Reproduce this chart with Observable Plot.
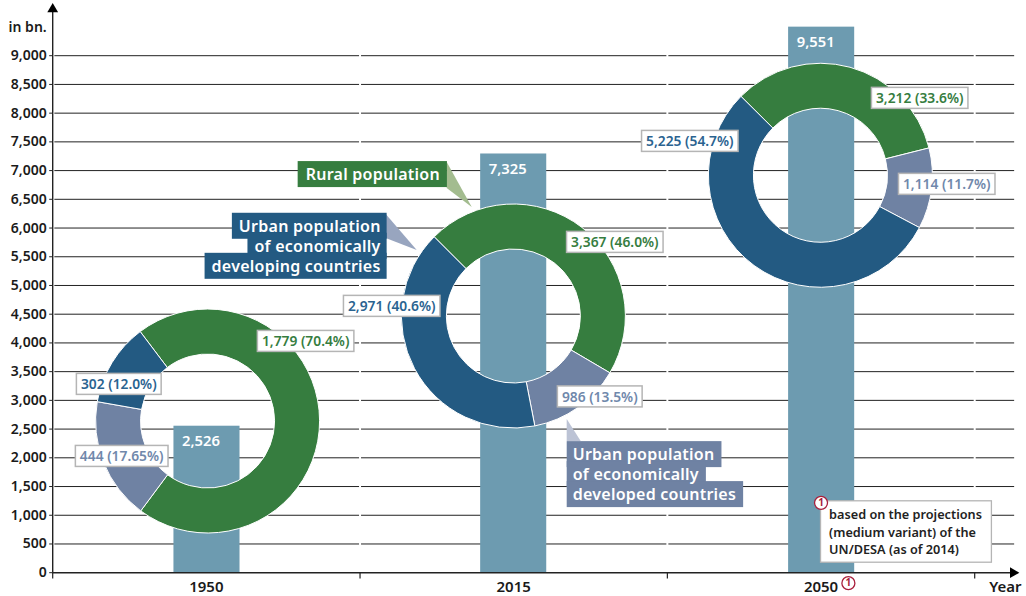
<!DOCTYPE html>
<html>
<head>
<meta charset="utf-8">
<script src="https://cdn.jsdelivr.net/npm/d3@7"></script>
<script src="https://cdn.jsdelivr.net/npm/@observablehq/plot@0.6"></script>
<style>
html,body{margin:0;padding:0;background:#fff;overflow:hidden}
svg{display:block}
.lg-green text,.lg-navy text,.lg-slate text{letter-spacing:.25px}
</style>
</head>
<body>
<script>
const years = ["1950", "2015", "2050"];
const yearLabels = ["1950", "2015", "2050"];
const barTotals = ["2,526", "7,325", "9,551"];
const barHeights = [2550, 7289, 9497];
const barCenters = [0.502, 1.5, 2.502];
const rural = [1779, 3367, 3212];
const urbanDeveloped = [444, 986, 1114];
const urbanDeveloping = [302, 2971, 5225];
const ruralLabels = ["1,779 (70.4%)", "3,367 (46.0%)", "3,212 (33.6%)"];
const developedLabels = ["444 (17.65%)", "986 (13.5%)", "1,114 (11.7%)"];
const developingLabels = ["302 (12.0%)", "2,971 (40.6%)", "5,225 (54.7%)"];
const yTicks = d3.range(0, 9001, 500);
const donutX = [0.5056, 1.5006, 2.4996];
const donutY = [2632, 4460, 6910];
const donutStart = [-37, -45, -45.2];

const green = "#367d3f", navy = "#235a82", slate = "#6f82a3", teal = "#6d9bb0", crimson = "#a81f3c";
const font = "'Noto Sans'";

const bars = years.map((y, i) => ({c: barCenters[i], x1: barCenters[i] - 0.1075, x2: barCenters[i] + 0.1075, h: barHeights[i], t: barTotals[i]}));

const slices = [];
years.forEach((y, i) => {
  const vals = [rural[i], urbanDeveloped[i], urbanDeveloping[i]];
  const cols = [green, slate, navy];
  const s = donutStart[i] * Math.PI / 180;
  const arcs = d3.pie().sort(null).startAngle(s).endAngle(s + 2 * Math.PI)(vals);
  arcs.forEach((a, k) => slices.push({x: donutX[i], y: donutY[i], a0: a.startAngle, a1: a.endAngle, fill: cols[k]}));
});

const valueBoxes = [
  {t: ruralLabels[0], x: 0.823, y: 4016, c: green},
  {t: developingLabels[0], x: 0.215, y: 3268, c: "#2a6390"},
  {t: developedLabels[0], x: 0.2245, y: 2014, c: "#7088ab"},
  {t: developingLabels[1], x: 1.103, y: 4626, c: "#2a6390"},
  {t: ruralLabels[1], x: 1.829, y: 5740, c: green},
  {t: developedLabels[1], x: 1.780, y: 3050, c: "#7088ab"},
  {t: developingLabels[2], x: 2.073, y: 7498, c: "#2a6390"},
  {t: ruralLabels[2], x: 2.821, y: 8247, c: green},
  {t: developedLabels[2], x: 2.909, y: 6750, c: "#7088ab"}
];

const ruralLegend = [{t: "Rural population", x: 1.26, y: 6924}];
const developingLegend = [
  {t: "Urban population", x: 1.067, y: 6024},
  {t: "of economically", x: 1.067, y: 5676},
  {t: "developing countries", x: 1.067, y: 5327}
];
const developedLegend = [
  {t: "Urban population", x: 1.692, y: 2049},
  {t: "of economically", x: 1.692, y: 1701},
  {t: "developed countries", x: 1.692, y: 1353}
];

const wedges = [
  {fill: "#a3bc8f", pts: [[1.282, 7150], [1.282, 6697], [1.3634, 6367]]},
  {fill: "#98a5bf", pts: [[1.0835, 6245], [1.0835, 5827], [1.1844, 5618]]},
  {fill: "#bcc3d5", pts: [[1.6725, 2676], [1.6725, 2293], [1.718, 2293]]}
];

const noteLines = [
  {t: "based on the projections", y: 1012},
  {t: "(medium variant) of the", y: 692},
  {t: "UN/DESA (as of 2014)", y: 403}
];
const noteRect = [{x1: 2.5, x2: 3.056, y1: 1243, y2: 174}];
const footMarks = [{x: 2.5, y: 1216}, {x: 2.589, y: -182}];

const donutMark = Plot.dot(slices, {
  x: "x", y: "y",
  render(index, scales, values) {
    const g = d3.create("svg:g");
    const arc = d3.arc().innerRadius(67).outerRadius(112);
    for (const i of index) {
      const d = slices[i];
      g.append("path")
        .attr("transform", `translate(${values.x[i]},${values.y[i]})`)
        .attr("d", arc({startAngle: d.a0, endAngle: d.a1}))
        .attr("fill", d.fill)
        .attr("stroke", "#fff")
        .attr("stroke-width", 1);
    }
    return g.node();
  }
});

const plot = Plot.plot({
  width: 1026, height: 596,
  marginLeft: 52.2, marginRight: 51.8, marginTop: 55.2, marginBottom: 23.8,
  x: {type: "linear", domain: [0, 3], axis: null},
  y: {type: "linear", domain: [0, 9000], axis: null},
  style: {background: "#fff", overflow: "visible"},
  marks: [
    Plot.ruleY(yTicks.filter(d => d > 0), {x1: 0.007, x2: 3.13, stroke: "#222", strokeWidth: 1}),
    Plot.ruleX([1, 2, 3], {y1: 0, y2: 9300, stroke: "#fff", strokeWidth: 2}),
    Plot.rectY(bars, {x1: "x1", x2: "x2", y1: 0, y2: "h", fill: teal}),
    Plot.text(bars, {x: "c", y: "h", text: "t", dy: 15, dx: -6, fill: "#fff", fontFamily: font, fontSize: 14.8, fontWeight: 600}),
    // axes
    Plot.ruleX([0], {y1: 0, y2: 9780, stroke: "#222", strokeWidth: 1.4}),
    Plot.dot([{x: 0, y: 9810}], {x: "x", y: "y", symbol: "triangle", r: 4, fill: "#000", stroke: "none"}),
    Plot.ruleY([0], {x1: 0, x2: 3.12, stroke: "#222", strokeWidth: 1.4}),
    Plot.dot([{x: 3.125, y: 0}], {x: "x", y: "y", symbol: "triangle", r: 4, fill: "#000", stroke: "none", rotate: 90}),
    Plot.ruleX([0, 1, 2, 3], {y1: 0, y2: -110, stroke: "#222", strokeWidth: 1.2}),
    Plot.axisY(yTicks, {anchor: "left", tickSize: 3, tickPadding: 3, tickFormat: d3.format(","), fontFamily: font, fontSize: 14, fontWeight: 600, fill: "#1a1a1a", stroke: "#222", label: null}),
    Plot.text(["in bn."], {x: 0, y: 9495, dx: -6, textAnchor: "end", fontFamily: font, fontSize: 14, fontWeight: 600, fill: "#1a1a1a"}),
    Plot.text(yearLabels, {x: (d, i) => i + 0.5, y: 0, dy: 14.5, fontFamily: font, fontSize: 15, fontWeight: 600, fill: "#1a1a1a"}),
    Plot.text(["Year"], {x: 3.1, y: 0, dy: 14.5, textAnchor: "middle", fontFamily: font, fontSize: 15, fontWeight: 600, fill: "#1a1a1a"}),
    donutMark,
    // callout wedges
    ...wedges.map(w => Plot.line(w.pts, {x: d => d[0], y: d => d[1], fill: w.fill, stroke: "none"})),
    // value labels
    Plot.text(valueBoxes, {x: "x", y: "y", text: "t", fill: "c", fontFamily: font, fontSize: 13.8, fontWeight: 600, className: "boxed"}),
    // legends
    Plot.text(ruralLegend, {x: "x", y: "y", text: "t", textAnchor: "end", fill: "#fff", fontFamily: font, fontSize: 16, fontWeight: 600, className: "lg-green"}),
    Plot.text(developingLegend, {x: "x", y: "y", text: "t", textAnchor: "end", fill: "#fff", fontFamily: font, fontSize: 16, fontWeight: 600, className: "lg-navy"}),
    Plot.text(developedLegend, {x: "x", y: "y", text: "t", textAnchor: "start", fill: "#fff", fontFamily: font, fontSize: 16, fontWeight: 600, className: "lg-slate"}),
    // note
    Plot.rect(noteRect, {x1: "x1", x2: "x2", y1: "y1", y2: "y2", fill: "#fff", stroke: "#b5b5b5", strokeWidth: 1.3}),
    Plot.text(noteLines, {x: 2.5263, y: "y", text: "t", textAnchor: "start", fontFamily: font, fontSize: 12.7, fontWeight: 600, fill: "#222"}),
    Plot.dot(footMarks, {x: "x", y: "y", r: 6.5, fill: (d, i) => i ? "none" : "#fff", stroke: crimson, strokeWidth: 1.3}),
    Plot.text(footMarks, {x: "x", y: "y", text: () => "1", fill: crimson, fontFamily: font, fontSize: 10, fontWeight: 700})
  ]
});
document.body.append(plot);

function boxes(sel, fill, stroke, padL, padR, sw, fixedH) {
  d3.select(plot).selectAll(sel).each(function () {
    const g = this;
    const texts = Array.from(g.querySelectorAll("text"));
    const first = g.firstChild;
    texts.forEach(t => {
      const b = t.getBBox();
      const r = document.createElementNS("http://www.w3.org/2000/svg", "rect");
      r.setAttribute("x", b.x - padL);
      r.setAttribute("y", b.y + b.height / 2 - fixedH / 2);
      r.setAttribute("width", b.width + padL + padR);
      r.setAttribute("height", fixedH);
      r.setAttribute("fill", fill);
      if (stroke) { r.setAttribute("stroke", stroke); r.setAttribute("stroke-width", sw); }
      const tr = t.getAttribute("transform");
      if (tr) r.setAttribute("transform", tr);
      g.insertBefore(r, first);
    });
  });
}
boxes(".boxed", "#fff", "#b5b5b5", 4.5, 4.5, 1.5, 21);
boxes(".lg-green", green, null, 8, 7, 0, 26);
boxes(".lg-navy", navy, null, 7, 6, 0, 26);
boxes(".lg-slate", slate, null, 6, 7, 0, 26);
</script>
</body>
</html>
